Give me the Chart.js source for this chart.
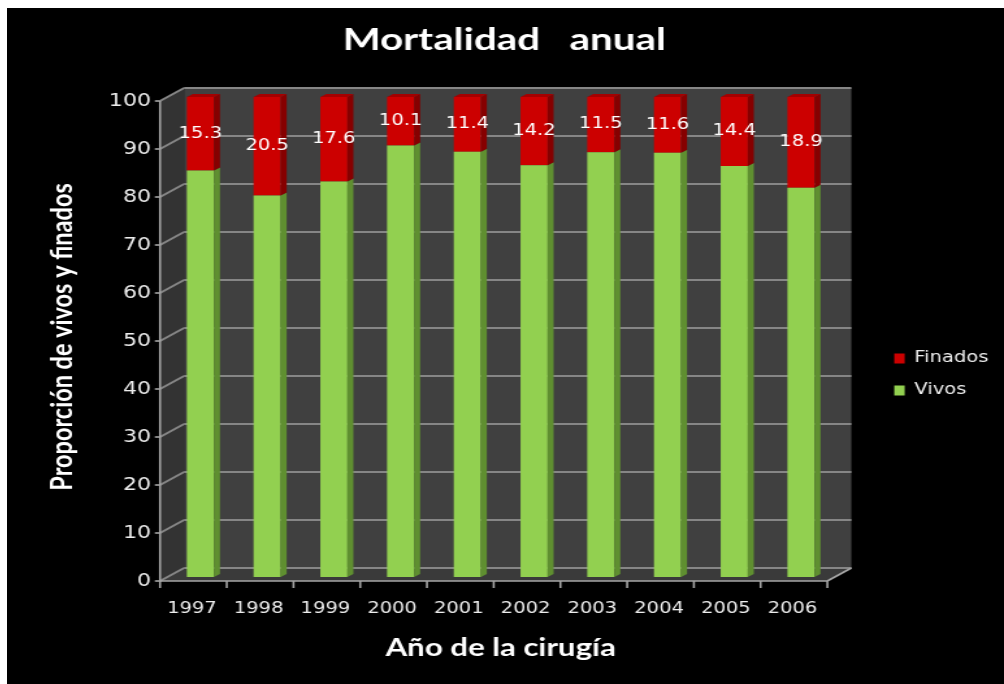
<!DOCTYPE html>
<html>
<head>
<meta charset="utf-8">
<script src="https://cdn.jsdelivr.net/npm/chart.js@4.4.1/dist/chart.umd.min.js"></script>
<style>
  html, body { margin: 0; padding: 0; background: #ffffff; width: 1004px; height: 684px; overflow: hidden; }
</style>
</head>
<body>
<canvas id="c" width="767" height="676" style="position:absolute;left:7px;top:8px;width:997px;height:676px;"></canvas>
<script>
// ---- data ----
const years = ['1997', '1998', '1999', '2000', '2001', '2002', '2003', '2004', '2005', '2006'];
const vivos = [84.7, 79.5, 82.4, 89.9, 88.6, 85.8, 88.5, 88.4, 85.6, 81.1];
const finados = [15.3, 20.5, 17.6, 10.1, 11.4, 14.2, 11.5, 11.6, 14.4, 18.9];
const yTickValues = [0, 10, 20, 30, 40, 50, 60, 70, 80, 90, 100];

// ---- styling ----
const S = 1.3; // horizontal stretch of the picture
const D = { fdx: -7 / S, fdy: 4, bdx: 17 / S, bdy: -9, sdx: 6 / S, sdy: -3 };
const colors = {
  vivos: '#92d050', vivosSide: '#5f8f30',
  finados: '#cc0000', finadosSide: '#860000', finadosTop: '#a40000',
  wall: '#404040', sideWall: '#333333', floor: '#3a3a3a', grid: '#868686', axis: '#a6a6a6',
  text: '#eeeeee'
};
const sideColors = [colors.vivosSide, colors.finadosSide];

function poly(ctx, pts, fill) {
  ctx.beginPath();
  ctx.moveTo(pts[0][0], pts[0][1]);
  for (let i = 1; i < pts.length; i++) ctx.lineTo(pts[i][0], pts[i][1]);
  ctx.closePath();
  ctx.fillStyle = fill;
  ctx.fill();
}
function line(ctx, x1, y1, x2, y2) {
  ctx.beginPath(); ctx.moveTo(x1, y1); ctx.lineTo(x2, y2); ctx.stroke();
}

const scene = {
  id: 'scene',
  beforeDraw(chart) {
    const { ctx, width, height } = chart;
    ctx.save();
    ctx.fillStyle = '#000000';
    ctx.fillRect(0, 0, width, height);
    ctx.restore();
  },
  beforeDatasetsDraw(chart) {
    const { ctx, chartArea: a, scales: { x, y } } = chart;
    const y0 = y.getPixelForValue(0), y100 = y.getPixelForValue(100);
    const L = a.left, R = a.right;
    ctx.save();
    poly(ctx, [[L + D.fdx, y100 + D.fdy], [L + D.bdx, y100 + D.bdy], [L + D.bdx, y0 + D.bdy], [L + D.fdx, y0 + D.fdy]], colors.sideWall);
    poly(ctx, [[L + D.bdx, y100 + D.bdy], [R + D.bdx, y100 + D.bdy], [R + D.bdx, y0 + D.bdy], [L + D.bdx, y0 + D.bdy]], colors.wall);
    poly(ctx, [[L + D.fdx, y0 + D.fdy], [R + D.fdx, y0 + D.fdy], [R + D.bdx, y0 + D.bdy], [L + D.bdx, y0 + D.bdy]], colors.floor);
    ctx.strokeStyle = colors.grid;
    ctx.lineWidth = 2;
    yTickValues.forEach(v => {
      const yy = y.getPixelForValue(v);
      line(ctx, L + D.bdx, yy + D.bdy, R + D.bdx, yy + D.bdy);
      line(ctx, L + D.fdx, yy + D.fdy, L + D.bdx, yy + D.bdy);
    });
    ctx.strokeStyle = colors.axis;
    ctx.lineWidth = 1.6;
    line(ctx, L + D.fdx, y100 + D.fdy, L + D.fdx, y0 + D.fdy);
    yTickValues.forEach(v => {
      const yy = y.getPixelForValue(v) + D.fdy;
      line(ctx, L + D.fdx - 4, yy, L + D.fdx, yy);
    });
    line(ctx, L + D.fdx, y0 + D.fdy, R + D.fdx, y0 + D.fdy);
    line(ctx, R + D.fdx, y0 + D.fdy, R + D.bdx, y0 + D.bdy);
    const cw = x.getPixelForValue(1) - x.getPixelForValue(0);
    for (let i = 0; i <= years.length; i++) {
      const bx = x.getPixelForValue(0) - cw / 2 + i * cw + D.fdx;
      line(ctx, bx, y0 + D.fdy, bx, y0 + D.fdy + 7);
    }
    ctx.restore();
  },
  afterDatasetsDraw(chart) {
    const { ctx } = chart;
    const last = chart.data.datasets.length - 1;
    ctx.save();
    chart.data.datasets.forEach((ds, di) => {
      const meta = chart.getDatasetMeta(di);
      meta.data.forEach((el, i) => {
        const { x, y, base, width } = el.getProps(['x', 'y', 'base', 'width'], true);
        const r = x + width / 2, l = x - width / 2;
        poly(ctx, [[r, y], [r + D.sdx, y + D.sdy], [r + D.sdx, base + D.sdy], [r, base]], sideColors[di]);
        if (di === last) {
          poly(ctx, [[l, y], [l + D.sdx, y + D.sdy], [r + D.sdx, y + D.sdy], [r, y]], colors.finadosTop);
          ctx.fillStyle = '#ffffff';
          ctx.font = '15px "DejaVu Sans"';
          ctx.textAlign = 'center';
          ctx.textBaseline = 'middle';
          ctx.fillText(finados[i].toFixed(1), x, (y + base) / 2);
        }
      });
    });
    ctx.restore();
  }
};

function build() {
  const ctx = document.getElementById('c').getContext('2d');
  new Chart(ctx, {
    type: 'bar',
    data: {
      labels: years,
      datasets: [
        { label: 'Vivos', data: vivos, backgroundColor: colors.vivos, borderWidth: 0 },
        { label: 'Finados', data: finados, backgroundColor: colors.finados, borderWidth: 0 }
      ]
    },
    options: {
      responsive: false,
      animation: false,
      devicePixelRatio: 1,
      layout: { padding: { left: 0, right: 2, top: 0, bottom: 0 } },
      datasets: { bar: { barPercentage: 0.406, categoryPercentage: 1 } },
      plugins: {
        title: {
          display: true, text: 'Mortalidad   anual', color: '#ffffff',
          font: { family: 'Lato', weight: 'bold', size: 31 },
          padding: { top: 13, bottom: 38.8 }
        },
        legend: {
          position: 'right', reverse: true, align: 'center',
          title: { display: true, text: '', padding: { top: 45, bottom: 0 }, font: { size: 10 } },
          labels: {
            color: colors.text, boxWidth: 8, boxHeight: 10, padding: 17,
            font: { family: 'DejaVu Sans', size: 15 }
          }
        },
        tooltip: { enabled: false }
      },
      scales: {
        x: {
          stacked: true,
          grid: { display: false, drawTicks: false },
          border: { display: false },
          ticks: {
            color: colors.text, font: { family: 'DejaVu Sans', size: 15 },
            padding: 23.5, labelOffset: -6.5, maxRotation: 0, autoSkip: false
          },
          title: {
            display: true, text: 'Año de la cirugía', color: '#ffffff',
            font: { family: 'Lato', weight: 'bold', size: 24 },
            padding: { top: 0, bottom: 21.6 }
          },
          afterFit(s) { s.height = 107; }
        },
        y: {
          stacked: true, min: 0, max: 100,
          grid: { display: false, drawTicks: false },
          border: { display: false },
          afterBuildTicks(s) { s.ticks = yTickValues.map(v => ({ value: v })); },
          ticks: {
            color: colors.text, font: { family: 'DejaVu Sans', size: 17 },
            padding: 12.3, labelOffset: 5
          },
          title: {
            display: true, text: 'Proporción de vivos y finados', color: '#ffffff',
            font: { family: 'Lato', weight: 'bold', size: 23.5 },
            padding: { top: 28.2, bottom: 0 }
          },
          afterFit(s) { s.width = 123.1; }
        },
        yR: {
          position: 'right', display: true,
          grid: { display: false, drawTicks: false },
          border: { display: false },
          ticks: { display: false },
          afterFit(s) { s.width = 29.1; }
        }
      }
    },
    plugins: [scene]
  });
}

const fontLoads = ['bold 31px Lato', 'bold 24px Lato', '15px "DejaVu Sans"', '17px "DejaVu Sans"']
  .map(f => document.fonts.load(f).catch(() => null));
Promise.all(fontLoads).then(build, build);
</script>
</body>
</html>
